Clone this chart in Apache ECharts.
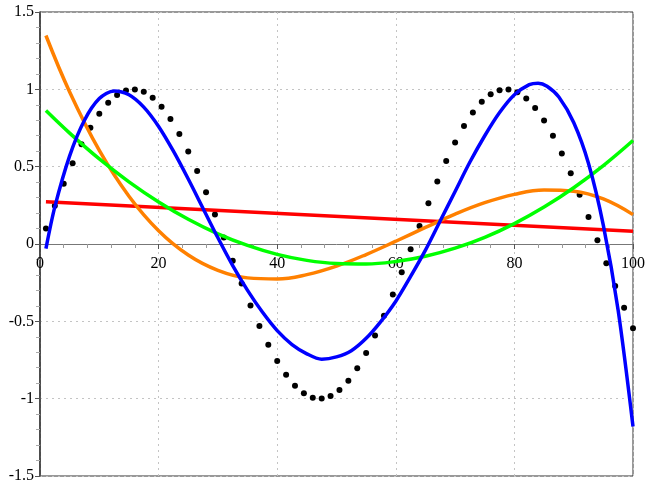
<!DOCTYPE html>
<html>
<head>
<meta charset="utf-8">
<script src="https://cdn.jsdelivr.net/npm/echarts@6/dist/echarts.min.js"></script>
<style>html,body{margin:0;padding:0;background:#fff}#c{width:659px;height:487px}</style>
</head>
<body>
<div id="c"></div>
<script>
// sampled points (black dots)
const dotX = [1,2.5,4,5.5,7,8.5,10,11.5,13,14.5,16,17.5,19,20.5,22,23.5,25,26.5,28,29.5,31,32.5,34,35.5,37,38.5,40,41.5,43,44.5,46,47.5,49,50.5,52,53.5,55,56.5,58,59.5,61,62.5,64,65.5,67,68.5,70,71.5,73,74.5,76,77.5,79,80.5,82,83.5,85,86.5,88,89.5,91,92.5,94,95.5,97,98.5,100];
const dotY = [0.0998,0.2474,0.3894,0.5227,0.6442,0.7513,0.8415,0.9128,0.9636,0.9927,0.9996,0.9840,0.9463,0.8874,0.8085,0.7114,0.5985,0.4720,0.3350,0.1904,0.0416,-0.1082,-0.2555,-0.3971,-0.5298,-0.6506,-0.7568,-0.8457,-0.9162,-0.9657,-0.9937,-0.9993,-0.9825,-0.9436,-0.8835,-0.8035,-0.7055,-0.5917,-0.4646,-0.3270,-0.1822,-0.0332,0.1165,0.2636,0.4048,0.5369,0.6570,0.7622,0.8504,0.9195,0.9679,0.9946,0.9989,0.9808,0.9407,0.8796,0.7985,0.6995,0.5849,0.4572,0.3191,0.1739,0.0248,-0.1249,-0.2717,-0.4125,-0.5440];

// degree 1 curve (red)
const redX = [1, 100];
const redY = [0.273, 0.083];

// degree 2 (green) and degree 3 (orange) curves
const fitX = [1,5,10,15,20,25,30,35,40,45,50,55,60,65,70,75,80,85,90,95,100];
const greenY = [0.863,0.717,0.550,0.402,0.272,0.160,0.066,-0.009,-0.067,-0.106,-0.126,-0.129,-0.113,-0.079,-0.027,0.043,0.132,0.239,0.364,0.507,0.669];
const orangeY = [1.348,0.983,0.605,0.309,0.086,-0.071,-0.170,-0.219,-0.226,-0.198,-0.143,-0.068,0.018,0.107,0.193,0.267,0.321,0.349,0.341,0.291,0.190];

// blue curve
const blueX = [1,2.5,5,7.5,10,12.5,15,17.5,20,22.5,25,27.5,30,32.5,35,37.5,40,42.5,45,47.5,50,52.5,55,57.5,60,62.5,65,67.5,70,72.5,75,77.5,80,82.5,84,85.5,87.5,90,92.5,95,97.5,100];
const blueY = [-0.03,0.24,0.57,0.80,0.94,0.99,0.965,0.885,0.76,0.60,0.42,0.23,0.04,-0.14,-0.30,-0.44,-0.56,-0.65,-0.71,-0.745,-0.73,-0.69,-0.61,-0.50,-0.37,-0.21,-0.04,0.15,0.34,0.53,0.70,0.85,0.965,1.03,1.04,1.02,0.95,0.785,0.52,0.12,-0.43,-1.18];

const xTicks = [0,20,40,60,80,100];
const yTicks = [-1.5,-1,-0.5,0,0.5,1,1.5];

const zip = (xs, ys) => xs.map((x, i) => [x, ys[i]]);
const font = {fontFamily: 'Liberation Serif', fontSize: 16, color: '#000'};

const W = 659, H = 487;
const G = {left: 40, right: 26, top: 12, bottom: 11};
const plotH = H - G.top - G.bottom;
const yMin = yTicks[0], yMax = yTicks[yTicks.length - 1];
// distance of value 0 above bottom edge of the plot
const zeroOffset = plotH * (0 - yMin) / (yMax - yMin);

const chart = echarts.init(document.getElementById('c'), null, {renderer: 'canvas'});
chart.setOption({
  animation: false,
  backgroundColor: '#fff',
  grid: Object.assign({show: true, borderColor: '#333', borderWidth: 1, backgroundColor: 'transparent', containLabel: false, outerBoundsMode: 'none'}, G),
  xAxis: {
    type: 'value', position: 'bottom', offset: -zeroOffset,
    min: xTicks[0], max: xTicks[xTicks.length-1], interval: 20,
    axisLine: {show: true, onZero: false, lineStyle: {color: '#777', width: 1}},
    axisTick: {show: true, length: 5, lineStyle: {color: '#555'}},
    minorTick: {show: true, splitNumber: 5, length: 4, lineStyle: {color: '#999'}},
    axisLabel: Object.assign({margin: 12, formatter: v => String(v)}, font),
    splitLine: {show: true, lineStyle: {color: '#c4c4c4', type: [2, 4], width: 1}}
  },
  yAxis: {
    type: 'value', min: yMin, max: yMax, interval: 0.5,
    axisLine: {show: true, onZero: false, lineStyle: {color: '#333', width: 1.5}},
    axisTick: {show: true, length: 5, lineStyle: {color: '#555'}},
    minorTick: {show: true, splitNumber: 5, length: 4, lineStyle: {color: '#aaa'}},
    axisLabel: Object.assign({margin: 6, formatter: v => String(v)}, font),
    splitLine: {show: true, lineStyle: {color: '#c4c4c4', type: [2, 4], width: 1}}
  },
  series: [
    {type: 'scatter', data: zip(dotX, dotY), symbol: 'circle', symbolSize: 6, itemStyle: {color: '#000', opacity: 1}, z: 2},
    {type: 'line', data: zip(redX, redY), showSymbol: false, lineStyle: {color: '#ff0000', width: 3.5}, z: 3},
    {type: 'line', data: zip(fitX, orangeY), smooth: 0.4, showSymbol: false, lineStyle: {color: '#ff8000', width: 3.5}, z: 4},
    {type: 'line', data: zip(fitX, greenY), smooth: 0.4, showSymbol: false, lineStyle: {color: '#00ff00', width: 3.5}, z: 5},
    {type: 'line', data: zip(blueX, blueY), smooth: 0.3, showSymbol: false, lineStyle: {color: '#0000ff', width: 3.5}, z: 6}
  ]
});
</script>
</body>
</html>
